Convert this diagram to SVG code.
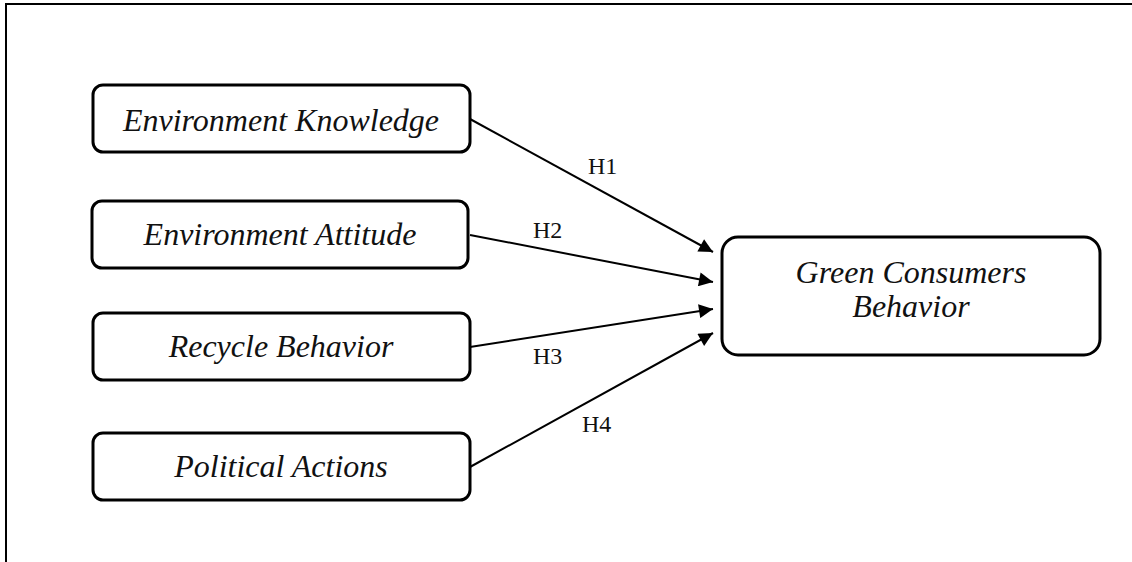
<svg xmlns="http://www.w3.org/2000/svg" width="1132" height="562" viewBox="0 0 1132 562">
<style>
.box{fill:#fff;stroke:#000;stroke-width:3}
.t{font-family:"Liberation Serif","Times New Roman",serif;font-style:italic;font-size:32px;fill:#111;text-anchor:middle}
.h{font-family:"Liberation Serif","Times New Roman",serif;font-size:24px;fill:#111}
.c{stroke:#000;stroke-width:2;fill:none;marker-end:url(#ah)}
</style>
<defs>
<marker id="ah" viewBox="0 0 10 10" refX="10" refY="5" markerUnits="userSpaceOnUse" markerWidth="16" markerHeight="14" orient="auto">
<path d="M0,0 L10,5 L0,10 z" fill="#000"/>
</marker>
</defs>
<rect width="1132" height="562" fill="#fff"/>
<path d="M6,562 V4 H1132" fill="none" stroke="#000" stroke-width="2"/>
<g id="node-knowledge">
<rect class="box" x="93" y="85" width="377" height="67" rx="10"/>
<text class="t" x="281" y="131">Environment Knowledge</text>
</g>
<g id="node-attitude">
<rect class="box" x="92" y="201" width="376" height="67" rx="10"/>
<text class="t" x="280" y="245">Environment Attitude</text>
</g>
<g id="node-recycle">
<rect class="box" x="93" y="313" width="377" height="67" rx="10"/>
<text class="t" x="281" y="357">Recycle Behavior</text>
</g>
<g id="node-political">
<rect class="box" x="93" y="433" width="377" height="67" rx="10"/>
<text class="t" x="281" y="477">Political Actions</text>
</g>
<g id="node-green">
<rect class="box" x="722" y="237" width="378" height="118" rx="16"/>
<text class="t" x="911" y="283">Green Consumers</text>
<text class="t" x="911" y="317">Behavior</text>
</g>
<g id="connectors">
<line class="c" x1="470" y1="119" x2="713" y2="252"/>
<line class="c" x1="470" y1="235" x2="713" y2="282"/>
<line class="c" x1="470" y1="347" x2="713" y2="309"/>
<line class="c" x1="470" y1="467" x2="713" y2="333"/>
<text class="h" x="588" y="174">H1</text>
<text class="h" x="533" y="238">H2</text>
<text class="h" x="533" y="364">H3</text>
<text class="h" x="582" y="432">H4</text>
</g>
</svg>
